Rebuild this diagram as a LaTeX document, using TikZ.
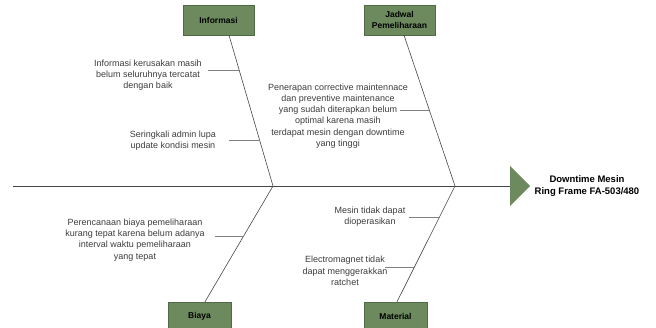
\documentclass[tikz,border=0pt]{standalone}
\usepackage{fontspec}
\setmainfont{Liberation Sans}
\usepackage{xcolor}
\usepackage{tikz}
\usetikzlibrary{calc}
\definecolor{bonegreen}{RGB}{108,138,94}
\definecolor{boneborder}{RGB}{80,105,70}
\definecolor{causegray}{RGB}{60,60,60}
\definecolor{linegray}{RGB}{70,70,70}

\begin{document}
\begin{tikzpicture}[x=1pt, y=-1pt]
    % Define styles
    \tikzstyle{category} = [rectangle, minimum width=71pt, minimum height=30pt, text centered, align=center, draw=boneborder, fill=bonegreen, font=\fontsize{8.5}{11}\selectfont\bfseries, inner sep=1pt]
    \tikzstyle{cause} = [align=center, text=causegray, font=\fontsize{9}{11.3}\selectfont, inner sep=2pt]
    \tikzstyle{effect} = [align=center, font=\fontsize{9.5}{12}\selectfont\bfseries]
    \tikzstyle{bone} = [draw=linegray, line width=0.6pt]
    \tikzstyle{twig} = [draw=gray, line width=0.6pt]

    \useasboundingbox (0,0) rectangle (656,327);

    % Categories
    \node [category] (informasi) at (218.5,20) {Informasi};
    \node [category] (jadwal) at (399.5,20) {Jadwal\\Pemeliharaan};
    \node [category, minimum width=63pt, minimum height=28pt] (biaya) at (199.5,316) {Biaya};
    \node [category, minimum width=63pt, minimum height=28pt] (material) at (395.5,316) {Material};

    % Spine and head
    \coordinate (tail) at (13,186);
    \coordinate (head) at (510,186);
    \coordinate (joint_a) at (273,186);
    \coordinate (joint_b) at (455,186);
    \fill [bonegreen] (510,166) -- (530,186) -- (510,206) -- cycle;
    \node [effect] (downtime) at (587,186) {Downtime Mesin\\Ring Frame FA-503/480};
    \draw [bone] (tail) -- (head);

    % Main bones
    \draw [bone] ([xshift=10.5pt]informasi.south) -- (joint_a);
    \draw [bone] ([xshift=4.5pt]jadwal.south) -- (joint_b);
    \draw [bone] (joint_a) -- ([xshift=5.5pt]biaya.north);
    \draw [bone] (joint_b) -- ([xshift=1.5pt]material.north);

    % Points on the bones
    \coordinate (on_info_a) at ($([xshift=10.5pt]informasi.south)!0.232!(joint_a)$);
    \coordinate (on_info_b) at ($([xshift=10.5pt]informasi.south)!0.695!(joint_a)$);
    \coordinate (on_jadwal) at ($([xshift=4.5pt]jadwal.south)!0.497!(joint_b)$);
    \coordinate (on_biaya) at ($(joint_a)!0.431!([xshift=5.5pt]biaya.north)$);
    \coordinate (on_mat_a) at ($(joint_b)!0.267!([xshift=1.5pt]material.north)$);
    \coordinate (on_mat_b) at ($(joint_b)!0.698!([xshift=1.5pt]material.north)$);

    % Causes
    \node [cause] (rusak) at (148,75) {Informasi kerusakan masih\\belum seluruhnya tercatat\\dengan baik};
    \node [cause] (admin) at (173,141) {Seringkali admin lupa\\update kondisi mesin};
    \node [cause] (penerapan) at (338,116) {Penerapan corrective maintennace\\dan preventive maintenance\\yang sudah diterapkan belum\\optimal karena masih\\terdapat mesin dengan downtime\\yang tinggi};
    \node [cause] (rencana) at (135,240) {Perencanaan biaya pemeliharaan\\kurang tepat karena belum adanya\\interval waktu pemeliharaan\\yang tepat};
    \node [cause] (operasi) at (370,217) {Mesin tidak dapat\\dioperasikan};
    \node [cause] (magnet) at (345,271) {Electromagnet tidak\\dapat menggerakkan\\ratchet};

    % Twigs
    \draw [twig] (on_info_a) -- (on_info_a -| 208,0);
    \draw [twig] (on_info_b) -- (on_info_b -| 229,0);
    \draw [twig] (on_jadwal) -- (on_jadwal -| 400,0);
    \draw [twig] (on_biaya) -- (on_biaya -| 215,0);
    \draw [twig] (on_mat_a) -- (on_mat_a -| 409,0);
    \draw [twig] (on_mat_b) -- (on_mat_b -| 385,0);
\end{tikzpicture}
\end{document}
